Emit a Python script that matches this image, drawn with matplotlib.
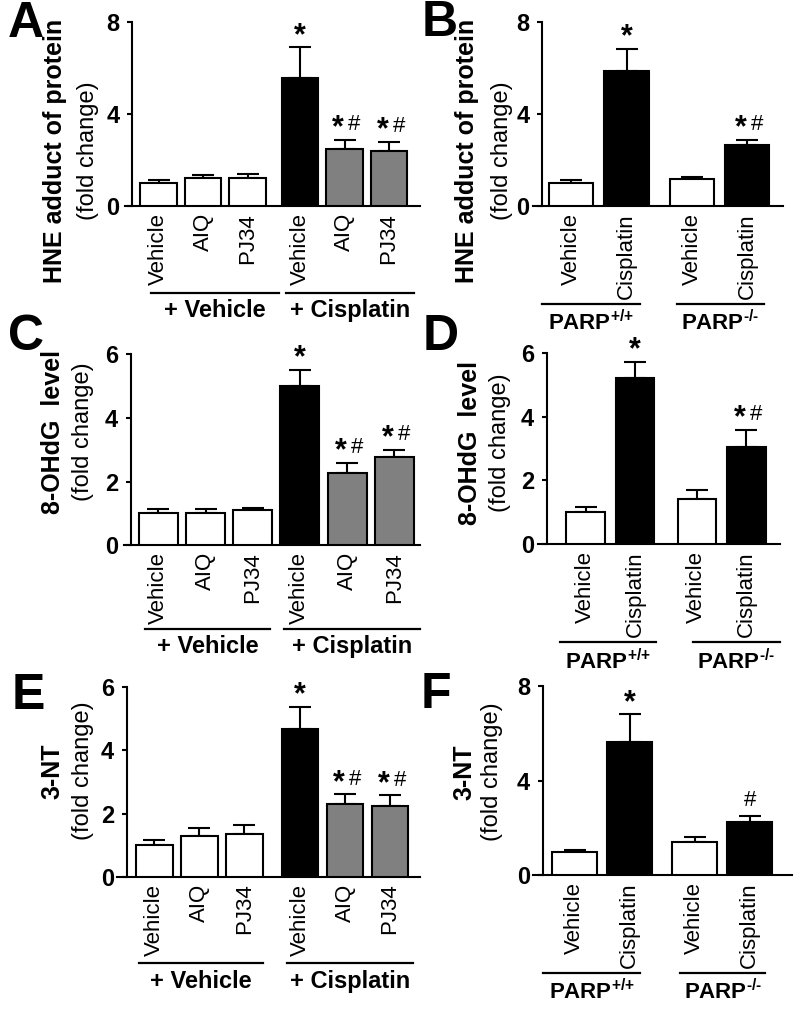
import numpy as np
import matplotlib
matplotlib.use('Agg')
import matplotlib.pyplot as plt
from matplotlib.transforms import blended_transform_factory

plt.rcParams['font.family'] = ['Liberation Sans', 'DejaVu Sans']
plt.rcParams['mathtext.fontset'] = 'custom'
plt.rcParams['mathtext.rm'] = 'Liberation Sans:bold'
plt.rcParams['mathtext.bf'] = 'Liberation Sans:bold'
plt.rcParams['mathtext.default'] = 'rm'

# ---- data ----
treat_labels = ['Vehicle', 'AIQ', 'PJ34', 'Vehicle', 'AIQ', 'PJ34']
treat_groups = ['+ Vehicle', '+ Cisplatin']
treat_colors = ['white', 'white', 'white', 'black', '#808080', '#808080']
parp_labels = ['Vehicle', 'Cisplatin', 'Vehicle', 'Cisplatin']
parp_groups = [r'PARP$^{\text{+/+}}$', r'PARP$^{\text{-/-}}$']
parp_colors = ['white', 'black', 'white', 'black']

hne_treat = [1.01, 1.22, 1.22, 5.55, 2.46, 2.40]
hne_treat_err = [0.12, 0.14, 0.17, 1.35, 0.40, 0.40]
hne_treat_sig = ['', '', '', '*', '*#', '*#']
hne_parp = [1.01, 5.88, 1.16, 2.64]
hne_parp_err = [0.12, 0.95, 0.12, 0.23]
hne_parp_sig = ['', '*', '', '*#']

ohdg_treat = [1.0, 1.0, 1.1, 5.01, 2.26, 2.76]
ohdg_treat_err = [0.13, 0.13, 0.08, 0.50, 0.32, 0.24]
ohdg_treat_sig = ['', '', '', '*', '*#', '*#']
ohdg_parp = [1.02, 5.21, 1.42, 3.04]
ohdg_parp_err = [0.14, 0.53, 0.29, 0.54]
ohdg_parp_sig = ['', '*', '', '*#']

nt_treat = [1.0, 1.3, 1.36, 4.68, 2.31, 2.23]
nt_treat_err = [0.16, 0.25, 0.27, 0.70, 0.30, 0.35]
nt_treat_sig = ['', '', '', '*', '*#', '*#']
nt_parp = [1.0, 5.65, 1.42, 2.24]
nt_parp_err = [0.08, 1.15, 0.20, 0.28]
nt_parp_sig = ['', '*', '', '#']

W, H = 800, 1009
fig = plt.figure(figsize=(W / 100, H / 100), dpi=100)


def panel(letter, vals, errs, sig, colors, labels, groups, ymax, ystep, ylab, lay,
          gsize=17):
    L, R, T, B, yax = lay['box']
    ax = fig.add_axes([L / W, 1 - B / H, (R - L) / W, (B - T) / H])
    # spine position first: moving it resets the tick settings
    for sp in ['top', 'right']:
        ax.spines[sp].set_visible(False)
    ax.spines['left'].set_position(('axes', (yax - L) / (R - L)))
    ax.spines['left'].set_linewidth(1.5)
    ax.spines['bottom'].set_linewidth(1.5)
    ax.patch.set_visible(False)

    n = len(vals)
    half = n // 2
    idx = np.arange(n)
    x = idx + np.where(idx >= half, lay['gap'], 0.0)
    ax.bar(x, vals, width=lay['w'], color=colors, edgecolor='black', linewidth=1.5, zorder=3)
    ax.errorbar(x, vals, yerr=[np.zeros(n), errs], fmt='none', ecolor='black',
                elinewidth=1.5, capsize=8, capthick=1.5, zorder=2)
    ax.set_xlim((L - lay['c0']) / lay['s'], (R - lay['c0']) / lay['s'])
    ax.set_ylim(0, ymax)
    yt = np.arange(0, ymax + 0.1, ystep)
    ax.set_yticks(yt)
    ax.set_yticklabels([str(int(v)) for v in yt], fontsize=17, fontweight='bold')
    ax.set_xticks(x)
    ax.set_xticklabels(labels, rotation=90, fontsize=16)
    ax.tick_params(axis='x', length=0, pad=5)
    ax.tick_params(axis='y', direction='out', length=3.6, width=1.5, pad=5.5)

    # significance marks
    for xi, v, e, s in zip(x, vals, errs, sig):
        top = v + e
        if s == '*':
            ax.annotate('*', (xi, top), xytext=(0, 2.5), textcoords='offset points',
                        ha='center', va='baseline', fontsize=22, fontweight='bold')
        elif s == '*#':
            ax.annotate('*', (xi, top), xytext=(-4.5, 2.5), textcoords='offset points',
                        ha='center', va='baseline', fontsize=22, fontweight='bold')
            ax.annotate('#', (xi, top), xytext=(7, 7), textcoords='offset points',
                        ha='center', va='baseline', fontsize=16)
        elif s == '#':
            ax.annotate('#', (xi, top), xytext=(0, 7), textcoords='offset points',
                        ha='center', va='baseline', fontsize=16)

    # group underlines and labels
    tr = blended_transform_factory(ax.transData, ax.transAxes)
    hpx = B - T
    for gi, (a, b) in enumerate(lay['ext']):
        i0, i1 = gi * half, gi * half + half - 1
        x0, x1 = x[i0] + a, x[i1] + b
        ax.plot([x0, x1], [-lay['line'] / hpx] * 2, transform=tr, color='black',
                lw=1.6, clip_on=False)
        ax.text((x0 + x1) / 2, -lay['glab'] / hpx, groups[gi], transform=tr,
                ha='center', va='center', fontsize=gsize, fontweight='bold')

    # y labels
    dxb, dxn = lay['ylx']
    fig.text((yax + dxb) / W, 1 - lay['yly'] / H, ylab, rotation=90, ha='center',
             va='center', fontsize=18, fontweight='bold')
    fig.text((yax + dxn) / W, 1 - lay['yly'] / H, '(fold change)', rotation=90,
             ha='center', va='center', fontsize=17)
    lx, ly = lay['letter']
    fig.text(lx / W, 1 - ly / H, letter, ha='center', va='center', fontsize=36,
             fontweight='bold')
    return ax


lay_a = dict(box=(125, 420, 22, 206, 132), c0=158.5, s=44.5, gap=0.18, w=0.83,
             line=87, glab=104, ext=[(-0.17, 0.7), (-0.32, 0.57)],
             ylx=(-77, -44), yly=151, letter=(26, 24))
lay_b = dict(box=(533, 783, 22, 206, 542), c0=571.3, s=55.2, gap=0.19, w=0.8,
             line=98, glab=117, ext=[(-0.53, 0.25), (-0.28, 0.3)],
             ylx=(-75, -40), yly=151, letter=(440, 23))
lay_c = dict(box=(124, 420, 354.3, 545.3, 130.7), c0=158.3, s=47.2, gap=0.0, w=0.83,
             line=84, glab=101, ext=[(-0.28, 0.36), (-0.33, 0.55)],
             ylx=(-78, -48), yly=432, letter=(26, 337))
lay_d = dict(box=(538.3, 780, 353.3, 544, 546.7), c0=585.5, s=49.5, gap=0.25, w=0.78,
             line=97.7, glab=118, ext=[(-0.52, 0.43), (-0.07, 0.67)],
             ylx=(-77, -47), yly=443, letter=(441, 337))
lay_e = dict(box=(117, 420, 687.3, 876.7, 126.7), c0=154.2, s=45, gap=0.24, w=0.82,
             line=86.6, glab=105, ext=[(-0.34, 0.41), (-0.29, 0.52)],
             ylx=(-74, -44), yly=771, letter=(28, 696))
lay_f = dict(box=(533.3, 791.7, 686, 875.3, 542.7), c0=574.7, s=55, gap=0.18, w=0.82,
             line=98, glab=116, ext=[(-0.57, 0.19), (-0.26, 0.28)],
             ylx=(-78, -51), yly=772, letter=(436, 695))

panel('A', hne_treat, hne_treat_err, hne_treat_sig, treat_colors, treat_labels,
      treat_groups, 8, 4, 'HNE adduct of protein', lay_a)
panel('B', hne_parp, hne_parp_err, hne_parp_sig, parp_colors, parp_labels,
      parp_groups, 8, 4, 'HNE adduct of protein', lay_b, gsize=16)
panel('C', ohdg_treat, ohdg_treat_err, ohdg_treat_sig, treat_colors, treat_labels,
      treat_groups, 6, 2, '8-OHdG  level', lay_c)
panel('D', ohdg_parp, ohdg_parp_err, ohdg_parp_sig, parp_colors, parp_labels,
      parp_groups, 6, 2, '8-OHdG  level', lay_d, gsize=16)
panel('E', nt_treat, nt_treat_err, nt_treat_sig, treat_colors, treat_labels,
      treat_groups, 6, 2, '3-NT', lay_e)
panel('F', nt_parp, nt_parp_err, nt_parp_sig, parp_colors, parp_labels,
      parp_groups, 8, 4, '3-NT', lay_f, gsize=16)

fig.savefig('out.png', dpi=100)
